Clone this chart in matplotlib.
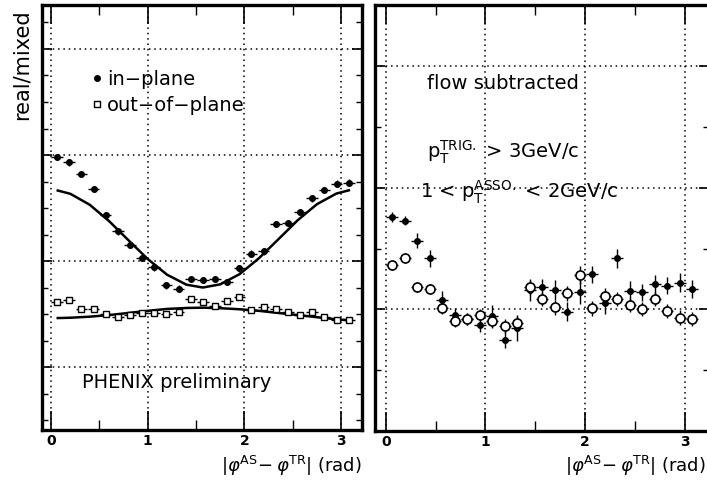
import matplotlib
matplotlib.use("Agg")
import matplotlib.pyplot as plt
from matplotlib.lines import Line2D
from matplotlib.ticker import MultipleLocator

plt.rcParams["font.family"] = ["DejaVu Sans"]
plt.rcParams["mathtext.fontset"] = "dejavusans"

# ----- data -----
# bin centres, 25 bins over 0..pi
dphi = [0.063, 0.188, 0.314, 0.440, 0.565, 0.691, 0.817, 0.942, 1.068, 1.194,
        1.319, 1.445, 1.571, 1.696, 1.822, 1.948, 2.073, 2.199, 2.325, 2.450,
        2.576, 2.702, 2.827, 2.953, 3.079]

# left: real/mixed
in_plane = [1.098, 1.093, 1.082, 1.068, 1.043, 1.028, 1.015, 1.003, 0.994, 0.977,
            0.974, 0.983, 0.982, 0.983, 0.980, 0.993, 1.007, 1.009, 1.035, 1.036,
            1.046, 1.059, 1.067, 1.073, 1.074]
in_plane_err = [0.003] * 25
out_plane = [0.961, 0.963, 0.955, 0.955, 0.950, 0.947, 0.949, 0.951, 0.951, 0.950,
             0.952, 0.964, 0.961, 0.958, 0.962, 0.966, 0.954, 0.957, 0.955, 0.952,
             0.949, 0.952, 0.947, 0.944, 0.944]
out_plane_err = [0.002] * 25

# fit curves (flow modulation)
fit_x = [0.07, 0.2, 0.4, 0.6, 0.8, 1.0, 1.2, 1.4, 1.57, 1.75, 1.95, 2.15, 2.35,
         2.55, 2.75, 2.95, 3.08]
fit_in = [1.0665, 1.0634, 1.0531, 1.0377, 1.0197, 1.0019, 0.9871, 0.9777, 0.975,
          0.978, 0.9876, 1.0026, 1.0204, 1.0384, 1.0536, 1.0636, 1.0667]
fit_out = [0.9462, 0.9465, 0.9475, 0.949, 0.951, 0.953, 0.9548, 0.9557, 0.956,
           0.9555, 0.9545, 0.953, 0.951, 0.949, 0.947, 0.945, 0.9442]

# right: flow subtracted
sub_in = [0.0758, 0.073, 0.0565, 0.042, 0.0078, -0.0045, -0.0078, -0.0127, -0.0053,
          -0.025, -0.0155, 0.016, 0.0182, 0.016, -0.0018, 0.0146, 0.029, 0.0056,
          0.042, 0.0152, 0.0141, 0.0207, 0.0196, 0.022, 0.0168]
sub_in_err = [0.004, 0.004, 0.006, 0.007, 0.007, 0.006, 0.005, 0.006, 0.009, 0.007,
              0.010, 0.009, 0.007, 0.008, 0.008, 0.010, 0.007, 0.009, 0.008, 0.008,
              0.007, 0.008, 0.007, 0.008, 0.007]
sub_out = [0.0366, 0.042, 0.0182, 0.0166, 0.001, -0.0092, -0.008, -0.0045, -0.0092,
           -0.0136, -0.0108, 0.0182, 0.0086, 0.0018, 0.0133, 0.0283, 0.001, 0.0113,
           0.0086, 0.0037, 0.0004, 0.0086, -0.0012, -0.0067, -0.0078]
sub_out_err = [0.004, 0.004, 0.004, 0.004, 0.005, 0.005, 0.005, 0.005, 0.006, 0.006,
               0.006, 0.006, 0.006, 0.006, 0.006, 0.007, 0.006, 0.006, 0.006, 0.006,
               0.006, 0.006, 0.006, 0.006, 0.006]
x_half = 0.06

xticks = [0, 1, 2, 3]

fig = plt.figure(figsize=(7.07, 4.83), dpi=100, facecolor="white")
axL = fig.add_axes([42 / 707, 1 - 430 / 483, 320 / 707, 425 / 483])
axR = fig.add_axes([375 / 707, 1 - 431 / 483, 334 / 707, 426 / 483])


def style_axis(ax, ymajor, yminor):
    for sp in ax.spines.values():
        sp.set_linewidth(2.4)
    ax.set_xticks(xticks)
    ax.xaxis.set_minor_locator(MultipleLocator(0.5))
    ax.yaxis.set_major_locator(MultipleLocator(ymajor))
    ax.yaxis.set_minor_locator(MultipleLocator(yminor))
    ax.tick_params(axis="x", which="major", direction="in", length=14, width=1.2,
                   top=True, labelsize=10, pad=3)
    ax.tick_params(axis="x", which="minor", direction="in", length=7, width=1.0, top=True)
    ax.tick_params(axis="y", which="major", direction="in", length=7, width=1.2,
                   right=True, labelleft=False)
    ax.tick_params(axis="y", which="minor", direction="in", length=4, width=1.0, right=True)
    for lab in ax.get_xticklabels():
        lab.set_fontweight("bold")
    ax.grid(True, which="major", linestyle=(0, (1, 2.5)), color="black", linewidth=1.1)


# ----- left panel -----
axL.set_xlim(-0.093, 3.216)
axL.set_ylim(0.8406, 1.2415)
style_axis(axL, 0.1, 0.025)
axL.plot(fit_x, fit_in, color="black", lw=1.8)
axL.plot(fit_x, fit_out, color="black", lw=1.8)
axL.errorbar(dphi, in_plane, yerr=in_plane_err, xerr=x_half, fmt="o", ms=4,
             color="black", elinewidth=1, capsize=0)
axL.errorbar(dphi, out_plane, yerr=out_plane_err, xerr=x_half, fmt="s", ms=5,
             mfc="white", mec="black", mew=1, color="black", elinewidth=1, capsize=0)

handles = [Line2D([], [], ls="none", marker="o", ms=4, color="black"),
           Line2D([], [], ls="none", marker="s", ms=4, mfc="white", mec="black")]
axL.legend(handles, ["in\u2212plane", "out\u2212of\u2212plane"], loc="upper left",
           bbox_to_anchor=(0.13, 0.87), frameon=False, fontsize=14,
           handlelength=0.4, handletextpad=0.3, labelspacing=0.35, borderpad=0)
axL.text(0.125, 0.112, "PHENIX preliminary", transform=axL.transAxes,
         fontsize=14, va="center")

# ----- right panel -----
axR.set_xlim(-0.11, 3.246)
axR.set_ylim(-0.0998, 0.250)
style_axis(axR, 0.1, 0.05)
axR.errorbar(dphi, sub_in, yerr=sub_in_err, xerr=x_half, fmt="o", ms=4,
             color="black", elinewidth=1, capsize=0)
axR.errorbar(dphi, sub_out, yerr=sub_out_err, xerr=x_half, fmt="o", ms=6.5,
             mfc="white", mec="black", mew=1.2, color="black", elinewidth=1, capsize=0)

axR.text(0.155, 0.815, "flow subtracted", transform=axR.transAxes, fontsize=14,
         va="center")
axR.text(0.155, 0.655, r"p$_{\rm T}^{\rm TRIG.}$ > 3GeV/c", transform=axR.transAxes,
         fontsize=14, va="center")
axR.text(0.135, 0.56, r"1 < p$_{\rm T}^{\rm ASSO.}$ < 2GeV/c", transform=axR.transAxes,
         fontsize=14, va="center")

# ----- labels -----
xlab = r"$|\varphi^{\rm AS}\!-\varphi^{\rm TR}|$ (rad)"
fig.text(362 / 707, 1 - 466 / 483, xlab, ha="right", va="center", fontsize=13)
fig.text(706 / 707, 1 - 466 / 483, xlab, ha="right", va="center", fontsize=13)
fig.text(22 / 707, 1 - 65 / 483, "real/mixed", rotation=90, ha="center", va="center",
         fontsize=15)

fig.savefig("out.png", dpi=100, facecolor="white")
